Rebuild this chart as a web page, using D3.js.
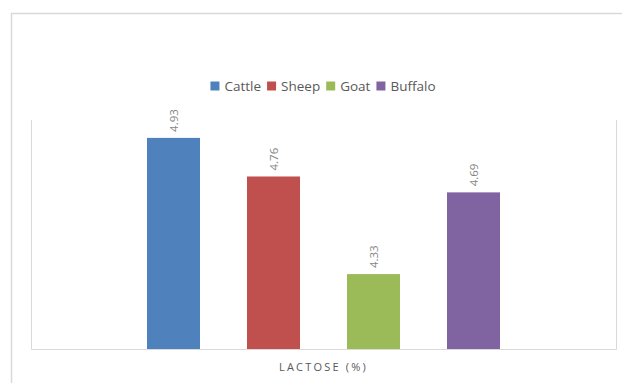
<!DOCTYPE html>
<html>
<head>
<meta charset="utf-8">
<script src="https://cdn.jsdelivr.net/npm/d3@7"></script>
<style>
  body { margin: 0; background: #fff; }
  text { font-family: "Open Sans", "Liberation Sans", sans-serif; }
</style>
</head>
<body>
<div id="chart"></div>
<script>
const categories = ["LACTOSE (%)"];
const series = ["Cattle", "Sheep", "Goat", "Buffalo"];
const values = [4.93, 4.76, 4.33, 4.69];
const colors = ["#4f81bd", "#c0504d", "#9bbb59", "#8064a2"];

const W = 622, H = 383;
const plot = {left: 31, right: 616, top: 120, bottom: 349};

const svg = d3.select("#chart")
              .append("svg")
              .attr("width", W)
              .attr("height", H);

// outer chart border (clipped by page edge on right/bottom)
svg.append("rect")
   .attr("x", 11.5).attr("y", 13.5)
   .attr("width", W + 10).attr("height", H + 10)
   .attr("fill", "none")
   .attr("stroke", "#d9d9d9")
   .attr("stroke-width", 1.5);

// plot area: left, bottom and right edges only
svg.append("path")
   .attr("d", `M${plot.left + 0.5},${plot.top} V${plot.bottom + 0.5} H${plot.right + 0.5} V${plot.top}`)
   .attr("fill", "none")
   .attr("stroke", "#d9d9d9")
   .attr("stroke-width", 1);

const x0 = d3.scaleBand()
             .domain(categories)
             .range([plot.left, plot.right])
             .paddingInner(0)
             .paddingOuter(0.23125);

const x1 = d3.scaleBand()
             .domain(series)
             .range([0, x0.bandwidth()])
             .paddingInner(0.47)
             .paddingOuter(0.235);

const y = d3.scaleLinear()
            .domain([4, 5])
            .range([349, 122]);

const color = d3.scaleOrdinal().domain(series).range(colors);

const data = series.map((s, i) => ({cat: categories[0], name: s, value: values[i]}));

svg.selectAll(".bar")
   .data(data)
   .enter()
   .append("rect")
   .attr("class", "bar")
   .attr("x", d => x0(d.cat) + x1(d.name))
   .attr("y", d => y(d.value))
   .attr("width", x1.bandwidth())
   .attr("height", d => y(4) - y(d.value))
   .attr("fill", d => color(d.name));

svg.selectAll(".label")
   .data(data)
   .enter()
   .append("text")
   .attr("class", "label")
   .attr("transform", d => `translate(${x0(d.cat) + x1(d.name) + x1.bandwidth() / 2 + 4},${y(d.value) - 6}) rotate(-90)`)
   .attr("text-anchor", "start")
   .style("font-size", "11.5px")
   .style("fill", "#858585")
   .text(d => d.value.toFixed(2));

// category axis label
svg.append("text")
   .attr("x", x0(categories[0]) + x0.bandwidth() / 2)
   .attr("y", 371)
   .attr("text-anchor", "middle")
   .style("font-size", "11px")
   .style("letter-spacing", "2.2px")
   .style("fill", "#595959")
   .text(categories[0]);

// legend
const legend = svg.append("g");
let lx = 0;
series.forEach((s, i) => {
  const g = legend.append("g").attr("transform", `translate(${lx},0)`);
  g.append("rect").attr("x", 0).attr("y", -9.5).attr("width", 9).attr("height", 9).attr("fill", color(s));
  const t = g.append("text").attr("x", 14).attr("y", 0)
             .style("font-size", "13.5px").style("fill", "#595959").text(s);
  lx += 14 + t.node().getComputedTextLength() + 6;
});
const lw = lx - 6;
legend.attr("transform", `translate(${323 - lw / 2},91)`);
</script>
</body>
</html>
